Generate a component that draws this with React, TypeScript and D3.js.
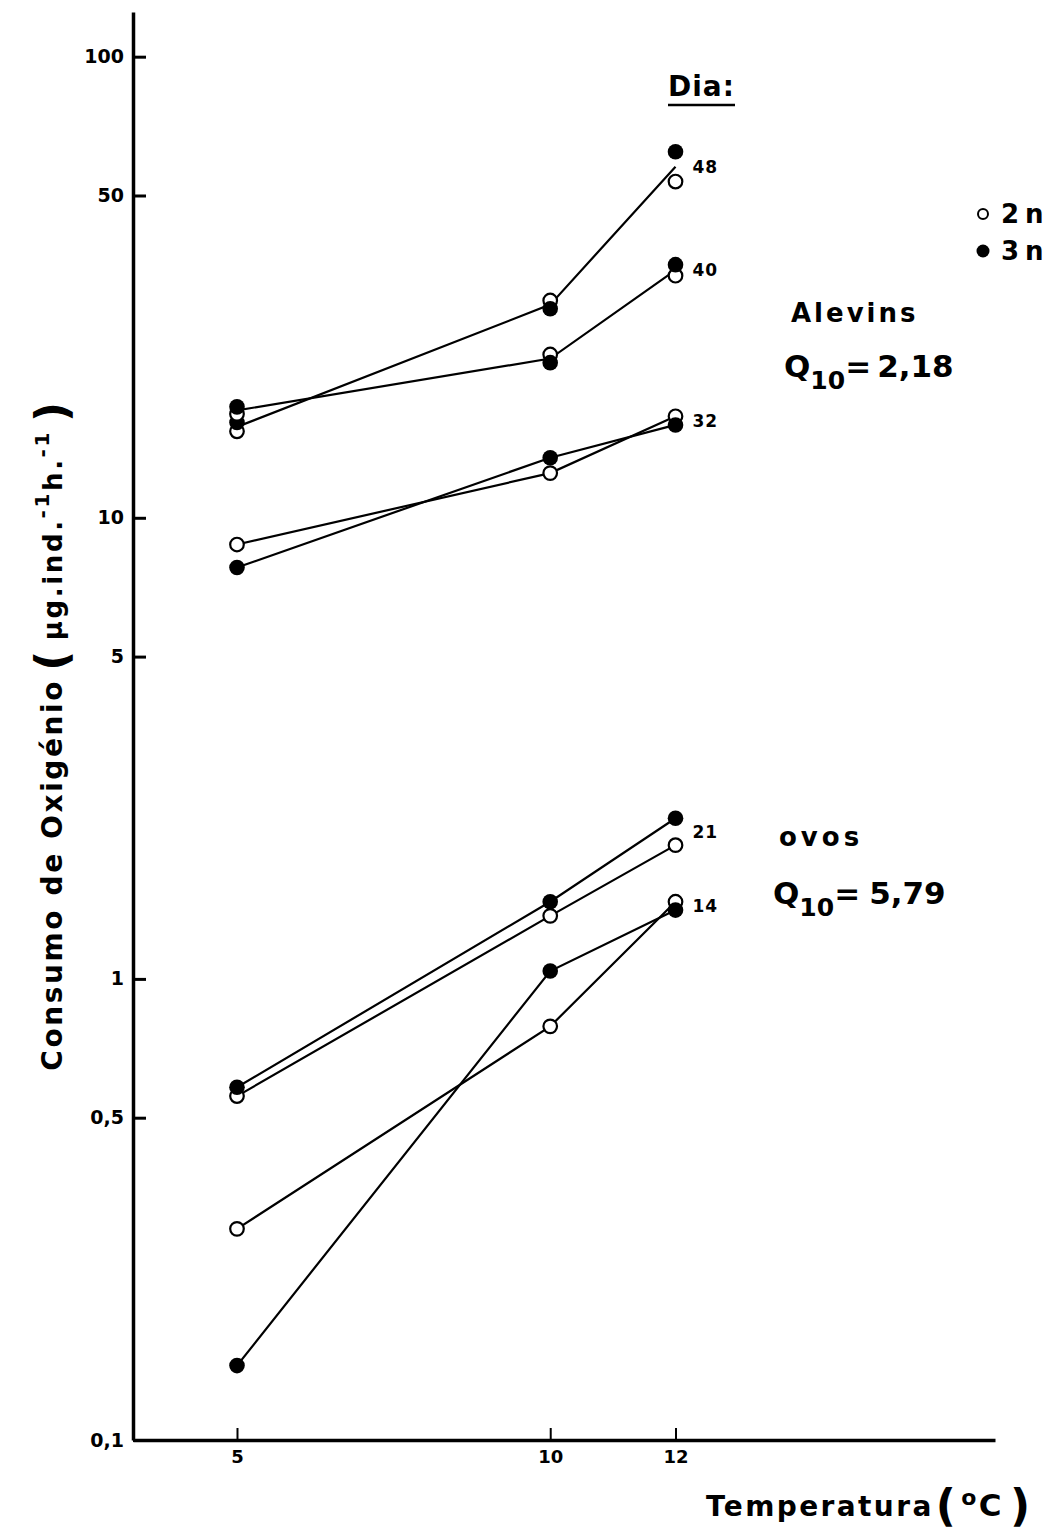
import { useEffect, useRef } from "react";
import * as d3 from "d3";

// temperatures (°C) on the x axis
const temps = [5, 10, 12];

// oxygen consumption (µg.ind-1.h-1) per day, 2n and 3n
const day48_2n = [15.4, 29.6, 53.6];
const day48_3n = [16.1, 28.4, 62.2];
const day40_2n = [16.8, 22.6, 33.5];
const day40_3n = [17.4, 21.7, 35.4];
const day32_2n = [8.75, 12.5, 16.6];
const day32_3n = [7.8, 13.5, 15.9];
const day21_2n = [0.557, 1.37, 1.95];
const day21_3n = [0.582, 1.47, 2.23];
const day14_2n = [0.287, 0.789, 1.47];
const day14_3n = [0.145, 1.04, 1.41];

const days = ["48", "40", "32", "21", "14"];
const diploid = [day48_2n, day40_2n, day32_2n, day21_2n, day14_2n];
const triploid = [day48_3n, day40_3n, day32_3n, day21_3n, day14_3n];
// days drawn with a single line through both ploidies
const pooledDays = ["48", "40"];

const yTicks = [0.1, 0.5, 1, 5, 10, 50, 100];
const xTicks = [5, 10, 12];

const W = 1055;
const H = 1534;
const FONT = "DejaVu Sans, sans-serif";

const App = () => {
  const yAxisRef = useRef<SVGGElement>(null);
  const xAxisRef = useRef<SVGGElement>(null);

  const x = d3.scaleLinear().domain([3.34, 17.1]).range([133, 995]);
  const y = d3.scaleLog().domain([0.1, 125]).range([1440, 12]);

  useEffect(() => {
    const ya = d3
      .axisLeft(y)
      .tickValues(yTicks)
      .tickFormat((d) => String(d).replace(".", ","))
      .tickSizeInner(-13)
      .tickSizeOuter(0)
      .tickPadding(9);
    const yg = d3.select(yAxisRef.current!).call(ya as any);
    yg.select(".domain").attr("stroke-width", 3.5);
    yg.selectAll(".tick line").attr("stroke-width", 3);
    yg.selectAll(".tick text")
      .attr("font-family", FONT)
      .attr("font-weight", "bold")
      .attr("font-size", 19)
      .attr("fill", "#000");

    const xa = d3
      .axisBottom(x)
      .tickValues(xTicks)
      .tickFormat((d) => String(d))
      .tickSizeInner(-12)
      .tickSizeOuter(0)
      .tickPadding(10);
    const xg = d3.select(xAxisRef.current!).call(xa as any);
    xg.select(".domain").attr("stroke-width", 3.5);
    xg.selectAll(".tick line").attr("stroke-width", 2);
    xg.selectAll(".tick text")
      .attr("font-family", FONT)
      .attr("font-weight", "bold")
      .attr("font-size", 18)
      .attr("fill", "#000");
  }, []);

  const line = d3
    .line<[number, number]>()
    .x((d) => x(d[0]))
    .y((d) => y(d[1]));

  const gmean = (a: number[], b: number[]) => a.map((v, i) => Math.sqrt(v * b[i]));

  return (
    <svg
      width={W}
      height={H}
      style={{ position: "absolute", left: 0, top: 0, background: "#fff" }}
    >
      <g ref={yAxisRef} transform={`translate(${x(3.34)},0)`} />
      <g ref={xAxisRef} transform={`translate(0,${y(0.1)})`} />

      {/* lines */}
      {days.map((day, i) => {
        if (pooledDays.includes(day)) {
          const m = gmean(diploid[i], triploid[i]);
          return (
            <path
              key={day}
              d={line(temps.map((t, j) => [t, m[j]]))!}
              fill="none"
              stroke="#000"
              strokeWidth={2.2}
            />
          );
        }
        return (
          <g key={day}>
            <path
              d={line(temps.map((t, j) => [t, diploid[i][j]]))!}
              fill="none"
              stroke="#000"
              strokeWidth={2.2}
            />
            <path
              d={line(temps.map((t, j) => [t, triploid[i][j]]))!}
              fill="none"
              stroke="#000"
              strokeWidth={2.2}
            />
          </g>
        );
      })}

      {/* markers */}
      {days.map((day, i) => (
        <g key={"m" + day}>
          {temps.map((t, j) => (
            <circle
              key={"o" + j}
              cx={x(t)}
              cy={y(diploid[i][j])}
              r={6.8}
              fill="#fff"
              stroke="#000"
              strokeWidth={2.2}
            />
          ))}
          {temps.map((t, j) => (
            <circle key={"f" + j} cx={x(t)} cy={y(triploid[i][j])} r={7.8} fill="#000" />
          ))}
        </g>
      ))}

      {/* day labels */}
      {days.map((day, i) => {
        const last = temps.length - 1;
        const v = Math.sqrt(diploid[i][last] * triploid[i][last]);
        return (
          <text
            key={"l" + day}
            x={x(temps[last]) + 17}
            y={y(v)}
            dy="0.35em"
            fontFamily={FONT}
            fontWeight="bold"
            fontSize={17}
            letterSpacing={1}
          >
            {day}
          </text>
        );
      })}

      <g fontFamily={FONT} fontWeight="bold" fill="#000">
        <text x={668} y={96} fontSize={28} letterSpacing={1}>
          Dia:
        </text>
        <line x1={668} x2={735} y1={105} y2={105} stroke="#000" strokeWidth={2.5} />

        {/* legend */}
        <circle cx={983} cy={214} r={5} fill="#fff" stroke="#000" strokeWidth={2} />
        <text x={1001} y={223} fontSize={26} letterSpacing={6}>
          2n
        </text>
        <circle cx={983} cy={251} r={6.5} fill="#000" />
        <text x={1001} y={260} fontSize={26} letterSpacing={6}>
          3n
        </text>

        <text x={791} y={322} fontSize={26} letterSpacing={3}>
          Alevins
        </text>
        <text x={784} y={377} fontSize={31}>
          Q
          <tspan fontSize={25} dy={12}>
            10
          </tspan>
          <tspan dy={-12}>=</tspan>
          <tspan dx={6}>2,18</tspan>
        </text>

        <text x={779} y={846} fontSize={26} letterSpacing={4}>
          ovos
        </text>
        <text x={773} y={904} fontSize={31}>
          Q
          <tspan fontSize={25} dy={12}>
            10
          </tspan>
          <tspan dy={-12}>=</tspan>
          <tspan dx={9}>5,79</tspan>
        </text>

        {/* x axis title */}
        <text x={706} y={1516} fontSize={28} letterSpacing={2.4}>
          Temperatura
          <tspan fontSize={44} dy={5} dx={2}>
            (
          </tspan>
          <tspan fontSize={22} dy={-16} dx={3}>
            o
          </tspan>
          <tspan fontSize={31} dy={11}>
            C
          </tspan>
          <tspan fontSize={44} dy={5} dx={6}>
            )
          </tspan>
        </text>

        {/* y axis title */}
        <text
          transform="translate(62,735) rotate(-90)"
          textAnchor="middle"
          fontSize={28}
          letterSpacing={2.6}
        >
          Consumo de Oxigénio
          <tspan fontSize={44} dy={5} dx={8}>
            (
          </tspan>
          <tspan fontSize={26} dy={-5} dx={8}>
            µg.ind.
          </tspan>
          <tspan fontSize={20} dy={-13}>
            -1
          </tspan>
          <tspan fontSize={26} dy={13}>
            h.
          </tspan>
          <tspan fontSize={20} dy={-13}>
            -1
          </tspan>
          <tspan fontSize={44} dy={18} dx={8}>
            )
          </tspan>
        </text>
      </g>
    </svg>
  );
};

export default App;
